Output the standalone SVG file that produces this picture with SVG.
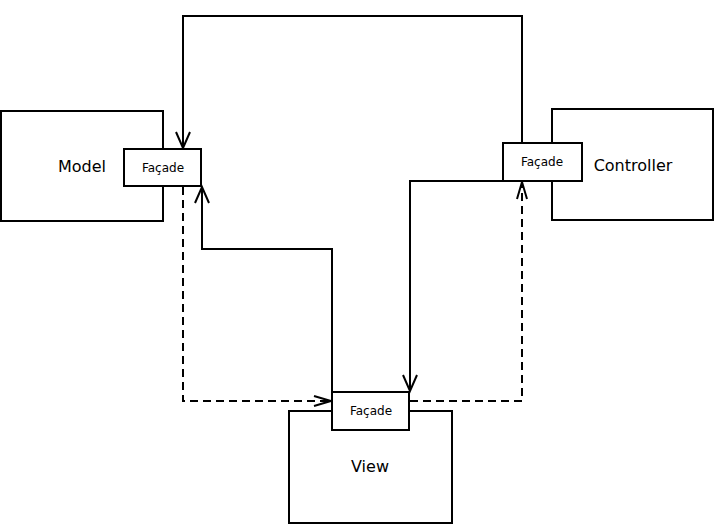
<svg xmlns="http://www.w3.org/2000/svg" width="716" height="526" viewBox="0 0 716 526">
  <style>
    .box { fill: #ffffff; stroke: #000000; stroke-width: 2; }
    .label { font-family: "DejaVu Sans", sans-serif; font-size: 16px; fill: #000000; text-anchor: middle; }
    .small { font-family: "DejaVu Sans", sans-serif; font-size: 12px; fill: #000000; text-anchor: middle; }
    .wire { fill: none; stroke: #000000; stroke-width: 2; }
    .dash { fill: none; stroke: #000000; stroke-width: 2; stroke-dasharray: 8 5; }
    .head { fill: none; stroke: #000000; stroke-width: 2; }
  </style>
  <rect width="716" height="526" fill="#ffffff"/>

  <g id="model">
    <rect class="box" x="1" y="111" width="162" height="110"/>
    <text class="label" x="82" y="172">Model</text>
  </g>
  <g id="controller">
    <rect class="box" x="552" y="109" width="161" height="111"/>
    <text class="label" x="633" y="171">Controller</text>
  </g>
  <g id="view">
    <rect class="box" x="289" y="411" width="163" height="112"/>
    <text class="label" x="370" y="472">View</text>
  </g>

  <g id="connectors">
    <!-- controller facade to model facade, over the top -->
    <polyline class="wire" points="522,143 522,16 183,16 183,148"/>
    <polyline class="head" points="176,132 183,148 190,132"/>
    <!-- view facade to model facade -->
    <polyline class="wire" points="332,392 332,249 202,249 202,187"/>
    <polyline class="head" points="195,203 202,187 209,203"/>
    <!-- controller facade to view facade -->
    <polyline class="wire" points="503,181 410,181 410,391"/>
    <polyline class="head" points="403,375 410,391 417,375"/>
    <!-- dashed: model facade to view facade -->
    <polyline class="dash" points="183,187 183,401 331,401"/>
    <polyline class="head" points="314,396 331,401 314,406"/>
    <!-- dashed: view facade to controller facade -->
    <polyline class="dash" points="410,401 522,401 522,182"/>
    <polyline class="head" points="517,199 522,182 527,199"/>
  </g>

  <g id="model-facade">
    <rect class="box" x="124" y="149" width="77" height="37"/>
    <text class="small" x="163" y="172">Façade</text>
  </g>
  <g id="controller-facade">
    <rect class="box" x="503" y="143" width="79" height="38"/>
    <text class="small" x="542" y="166">Façade</text>
  </g>
  <g id="view-facade">
    <rect class="box" x="332" y="392" width="77" height="38"/>
    <text class="small" x="371" y="415">Façade</text>
  </g>
</svg>
